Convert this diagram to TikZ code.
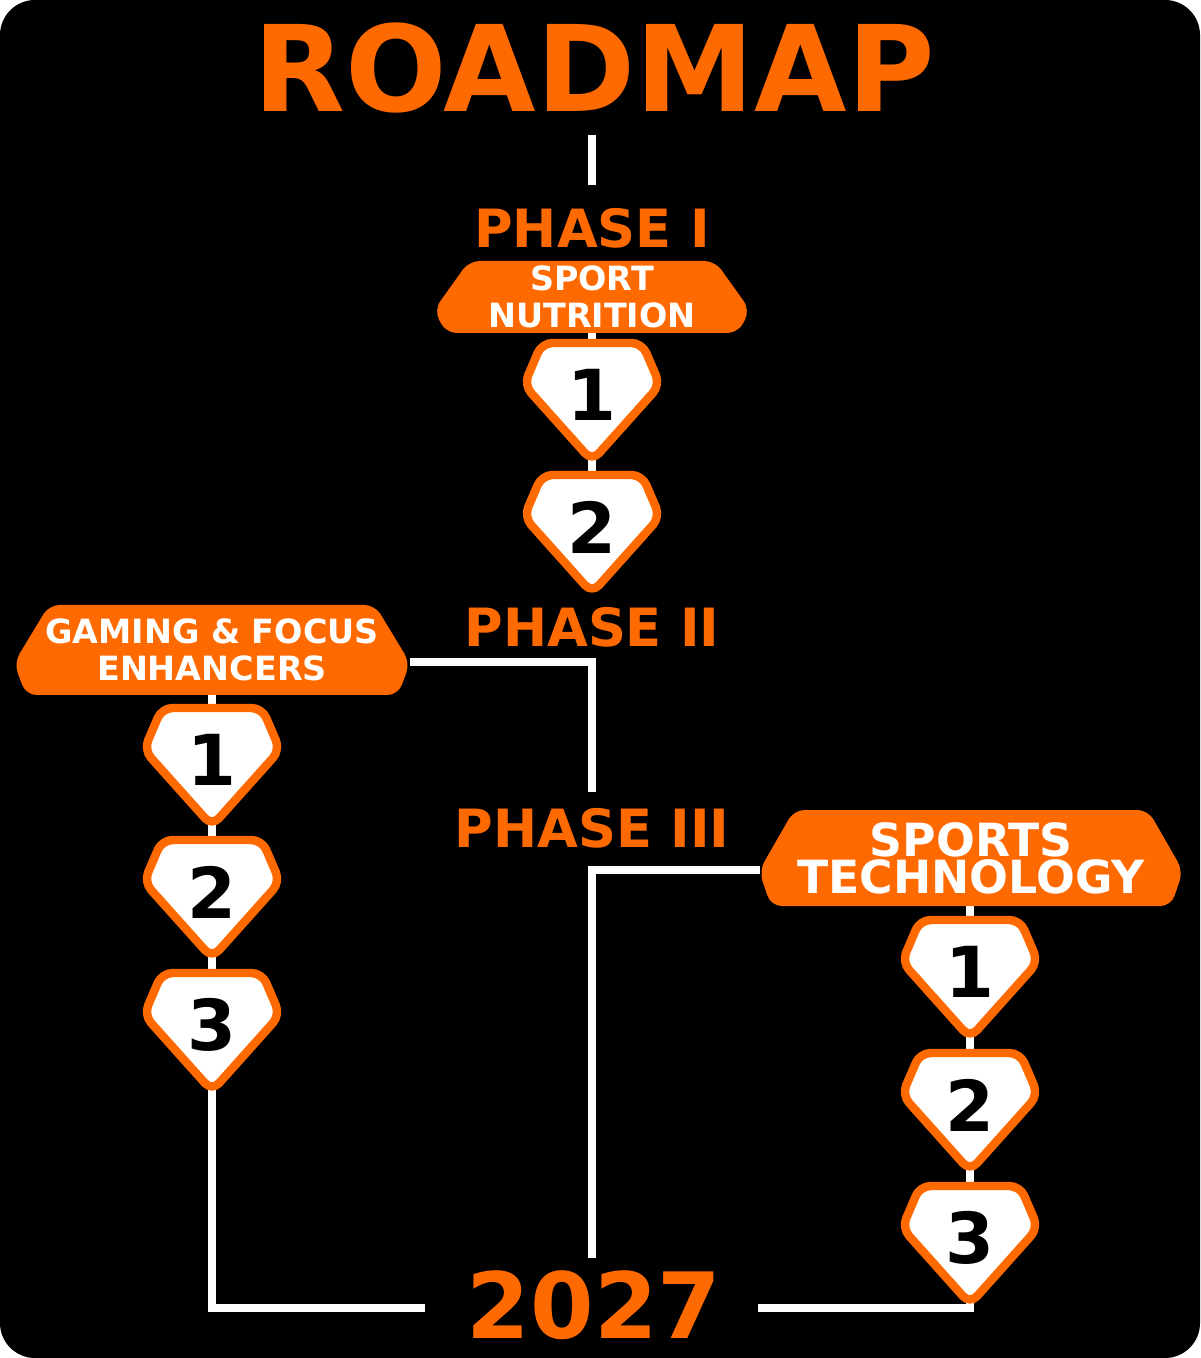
\documentclass[tikz,border=0pt]{standalone}
\usepackage{fontspec}
\setmainfont{DejaVu Sans}
\usetikzlibrary{calc,positioning}
\definecolor{roadorange}{HTML}{FF6A00}

\tikzset{
  road/.style={draw=white, line width=2.2pt},
  phasetext/.style={text=roadorange, font=\fontsize{15}{15}\selectfont\bfseries, inner sep=0pt},
  bannertext/.style={text=white, font=\fontsize{9.5}{10.5}\selectfont\bfseries, align=center, inner sep=0pt},
  badgeshape/.style={fill=white, draw=roadorange, line width=2.4pt, rounded corners=3pt},
  badgetext/.style={text=black, font=\fontsize{20}{20}\selectfont\bfseries, inner sep=0pt}
}

% banner: name, centre, half width, half height, text
\newcommand\roadbanner[5]{%
  \begin{scope}[shift={#2}]
    \fill[roadorange, rounded corners=3pt] (-#3+0.35,#4) -- (#3-0.35,#4) -- (#3,-0.13) -- (#3-0.12,-#4) -- (-#3+0.12,-#4) -- (-#3,-0.13) -- cycle;
  \end{scope}
  \node[bannertext] (#1) at #2 {#5};
}
% badge: name, top centre, number
\newcommand\roadbadge[3]{%
  \begin{scope}[shift={#2}]
    \draw[badgeshape] (-0.50,0) -- (0.50,0) -- (0.68,-0.42) -- (0,-1.18) -- (-0.68,-0.42) -- cycle;
  \end{scope}
  \node[badgetext] (#1) at ($#2+(0,-0.52)$) {#3};
}

\begin{document}
\begin{tikzpicture}
    \fill[white] (0,0) rectangle (12,-13.58);
    \fill[black, rounded corners=0.35cm] (0,0) rectangle (12,-13.58);

    \node[text=roadorange, font=\fontsize{34}{34}\selectfont\bfseries, inner sep=0pt] (title) at (5.94,-0.68) {ROADMAP};
    \node[phasetext] (phaseone) at (5.92,-2.28) {PHASE I};
    \node[phasetext] (phasetwo) at (5.92,-6.27) {PHASE II};
    \node[phasetext] (phasethree) at (5.92,-8.28) {PHASE III};
    \node[text=roadorange, font=\fontsize{26}{26}\selectfont\bfseries, inner sep=0pt] (year) at (5.94,-13.05) {2027};

    % connectors
    \coordinate (titleend) at (5.92,-1.35);
    \coordinate (phaseonetop) at (5.92,-1.85);
    \coordinate (sntop) at (5.92,-3.2);
    \coordinate (snend) at (5.92,-5.8);
    \coordinate (gfright) at (4.10,-6.62);
    \coordinate (twoturn) at (5.92,-6.62);
    \coordinate (twoend) at (5.92,-7.92);
    \coordinate (threebottom) at (5.92,-12.58);
    \coordinate (threeturn) at (5.92,-8.70);
    \coordinate (stleft) at (7.60,-8.70);
    \coordinate (gftop) at (2.12,-6.8);
    \coordinate (gfturn) at (2.12,-13.08);
    \coordinate (yearleft) at (4.25,-13.08);
    \coordinate (yearright) at (7.58,-13.08);
    \coordinate (stturn) at (9.70,-13.08);
    \coordinate (sttop) at (9.70,-9.0);

    \draw[road] (titleend) -- (phaseonetop);
    \draw[road] (sntop) -- (snend);
    \draw[road] (gfright) -- (twoturn) -- (twoend);
    \draw[road] (threebottom) -- (threeturn) -- (stleft);
    \draw[road] (gftop) -- (gfturn) -- (yearleft);
    \draw[road] (yearright) -- (stturn) -- (sttop);

    % phase I
    \roadbanner{sportnutrition}{(5.92,-2.97)}{1.58}{0.36}{SPORT\\NUTRITION}
    \roadbadge{snone}{(5.92,-3.43)}{1}
    \roadbadge{sntwo}{(5.92,-4.75)}{2}

    % phase II
    \roadbanner{gamingfocus}{(2.12,-6.50)}{1.98}{0.45}{GAMING \& FOCUS\\ENHANCERS}
    \roadbadge{gfone}{(2.12,-7.08)}{1}
    \roadbadge{gftwo}{(2.12,-8.40)}{2}
    \roadbadge{gfthree}{(2.12,-9.73)}{3}

    % phase III
    \roadbanner{sportstech}{(9.71,-8.58)}{2.12}{0.48}{\fontsize{13}{15.5}\selectfont SPORTS\\\fontsize{13}{15.5}\selectfont TECHNOLOGY}
    \roadbadge{stone}{(9.70,-9.20)}{1}
    \roadbadge{sttwo}{(9.70,-10.53)}{2}
    \roadbadge{stthree}{(9.70,-11.86)}{3}
\end{tikzpicture}
\end{document}
